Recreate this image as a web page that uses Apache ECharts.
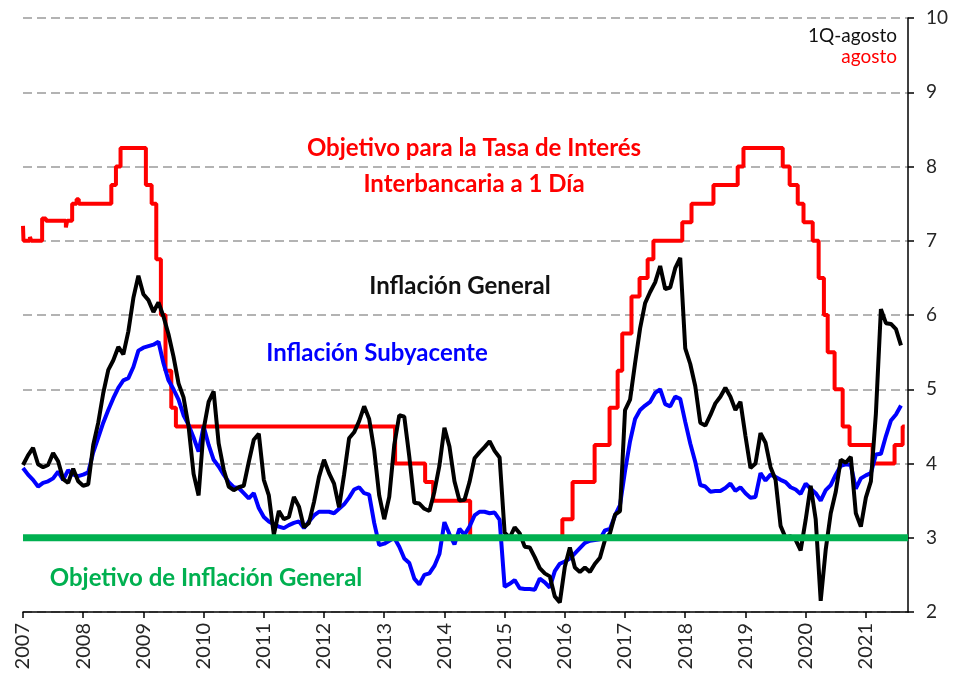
<!DOCTYPE html>
<html>
<head>
<meta charset="utf-8">
<script src="https://cdn.jsdelivr.net/npm/echarts@6/dist/echarts.min.js"></script>
<style>
  html, body { margin: 0; padding: 0; background: #fff; }
  #chart { width: 953px; height: 680px; }
</style>
</head>
<body>
<div id="chart"></div>
<script>
// monthly series start in January of this year
const startYear = 2007;
const yearLabels = [2007, 2008, 2009, 2010, 2011, 2012, 2013, 2014, 2015, 2016, 2017, 2018, 2019, 2020, 2021];

// Inflación General (annual %, monthly, Jan 2007 - 1Q Aug 2021)
const headline = [
  3.98, 4.11, 4.21, 3.99, 3.95, 3.98, 4.14, 4.03, 3.79, 3.74, 3.93, 3.76,
  3.70, 3.72, 4.25, 4.55, 4.95, 5.26, 5.39, 5.57, 5.47, 5.78, 6.23, 6.53,
  6.28, 6.20, 6.04, 6.17, 5.98, 5.74, 5.44, 5.08, 4.89, 4.50, 3.86, 3.57,
  4.46, 4.83, 4.97, 4.27, 3.92, 3.69, 3.64, 3.68, 3.70, 4.02, 4.32, 4.40,
  3.78, 3.57, 3.04, 3.36, 3.25, 3.28, 3.55, 3.42, 3.14, 3.20, 3.48, 3.82,
  4.05, 3.87, 3.73, 3.41, 3.85, 4.34, 4.42, 4.57, 4.77, 4.60, 4.18, 3.57,
  3.25, 3.55, 4.25, 4.65, 4.63, 4.09, 3.47, 3.46, 3.39, 3.36, 3.62, 3.97,
  4.48, 4.23, 3.76, 3.50, 3.51, 3.75, 4.07, 4.15, 4.22, 4.30, 4.17, 4.08,
  3.07, 3.00, 3.14, 3.06, 2.88, 2.87, 2.74, 2.59, 2.52, 2.48, 2.21, 2.13,
  2.61, 2.87, 2.60, 2.54, 2.60, 2.54, 2.65, 2.73, 2.97, 3.06, 3.31, 3.36,
  4.72, 4.86, 5.35, 5.82, 6.16, 6.31, 6.44, 6.66, 6.35, 6.37, 6.63, 6.77,
  5.55, 5.34, 5.04, 4.55, 4.51, 4.65, 4.81, 4.90, 5.02, 4.90, 4.72, 4.83,
  4.37, 3.94, 4.00, 4.41, 4.28, 3.95, 3.78, 3.16, 3.00, 3.02, 2.97, 2.83,
  3.24, 3.70, 3.25, 2.15, 2.84, 3.33, 3.62, 4.05, 4.01, 4.09, 3.33, 3.15,
  3.54, 3.76, 4.67, 6.08, 5.89, 5.88, 5.81, 5.59
];

// Inflación Subyacente
const core = [
  3.94, 3.85, 3.78, 3.69, 3.74, 3.76, 3.80, 3.89, 3.78, 3.91, 3.85, 3.83,
  3.85, 3.88, 4.15, 4.35, 4.55, 4.72, 4.88, 5.02, 5.12, 5.15, 5.30, 5.52,
  5.56, 5.58, 5.60, 5.64, 5.35, 5.12, 5.00, 4.86, 4.65, 4.52, 4.35, 4.16,
  4.50, 4.25, 4.05, 3.96, 3.85, 3.75, 3.68, 3.67, 3.60, 3.53, 3.60, 3.40,
  3.28, 3.22, 3.18, 3.15, 3.13, 3.17, 3.20, 3.22, 3.13, 3.22, 3.30, 3.35,
  3.35, 3.35, 3.33, 3.39, 3.45, 3.54, 3.65, 3.68, 3.60, 3.58, 3.20, 2.90,
  2.92, 2.96, 3.00, 2.88, 2.72, 2.66, 2.45, 2.37, 2.50, 2.52, 2.62, 2.78,
  3.21, 3.05, 2.91, 3.12, 3.04, 3.15, 3.30, 3.35, 3.35, 3.33, 3.34, 3.24,
  2.34, 2.38, 2.43, 2.32, 2.31, 2.31, 2.30, 2.45, 2.40, 2.33, 2.55, 2.65,
  2.68, 2.72, 2.79, 2.86, 2.93, 2.96, 2.97, 2.98, 3.10, 3.12, 3.30, 3.44,
  3.90, 4.30, 4.60, 4.72, 4.78, 4.83, 4.95, 5.00, 4.80, 4.77, 4.90, 4.87,
  4.56, 4.27, 4.02, 3.71, 3.69, 3.62, 3.63, 3.63, 3.67, 3.73, 3.63, 3.68,
  3.60, 3.54, 3.55, 3.87, 3.77, 3.85, 3.82, 3.78, 3.75, 3.68, 3.65, 3.59,
  3.73, 3.66, 3.60, 3.50, 3.64, 3.71, 3.85, 3.97, 3.99, 3.98, 3.66, 3.80,
  3.84, 3.87, 4.12, 4.13, 4.37, 4.58, 4.66, 4.78
];

// Objetivo para la Tasa de Interés Interbancaria a 1 Día (value holds from date)
const rateDates = [
  '2007-01-01', '2007-01-04', '2007-02-12', '2007-02-20', '2007-04-27', '2007-05-20',
  '2007-09-18', '2007-09-26', '2007-10-26', '2007-11-22', '2007-12-05',
  '2008-06-20', '2008-07-18', '2008-08-15',
  '2009-01-16', '2009-02-20', '2009-03-20', '2009-04-17', '2009-05-15', '2009-06-19', '2009-07-17',
  '2013-03-08', '2013-09-06', '2013-10-25', '2014-06-06',
  '2015-12-17', '2016-02-17', '2016-06-30', '2016-09-29', '2016-11-17', '2016-12-15',
  '2017-02-09', '2017-03-30', '2017-05-18', '2017-06-22', '2017-12-14',
  '2018-02-08', '2018-06-21', '2018-11-15', '2018-12-20',
  '2019-08-15', '2019-09-26', '2019-11-14', '2019-12-19',
  '2020-02-13', '2020-03-20', '2020-04-21', '2020-05-14', '2020-06-25', '2020-08-13', '2020-09-24',
  '2021-02-11', '2021-06-24', '2021-08-12', '2021-08-25'
];
const rateValues = [
  7.20, 7.00, 7.05, 7.00, 7.30, 7.27,
  7.18, 7.27, 7.50, 7.56, 7.50,
  7.75, 8.00, 8.25,
  7.75, 7.50, 6.75, 6.00, 5.25, 4.75, 4.50,
  4.00, 3.75, 3.50, 3.00,
  3.25, 3.75, 4.25, 4.75, 5.25, 5.75,
  6.25, 6.50, 6.75, 7.00, 7.25,
  7.50, 7.75, 8.00, 8.25,
  8.00, 7.75, 7.50, 7.25,
  7.00, 6.50, 6.00, 5.50, 5.00, 4.50, 4.25,
  4.00, 4.25, 4.50, 4.50
];

const inflationTarget = 3;
const xMin = 2007, xMax = 2021.7;

function toYear(d) {
  const [y, m, dd] = d.split('-').map(Number);
  const s = Date.UTC(y, 0, 1), e = Date.UTC(y + 1, 0, 1);
  return y + (Date.UTC(y, m - 1, dd) - s) / (e - s);
}
const monthly = arr => arr.map((v, i) => [startYear + i / 12, v]);

const chart = echarts.init(document.getElementById('chart'));
const font = 'Lato, "Open Sans", sans-serif';

chart.setOption({
  animation: false,
  grid: { left: 23, right: 45, top: 18, bottom: 68 },
  xAxis: {
    type: 'value', min: xMin, max: xMax, interval: 1,
    axisLine: { lineStyle: { color: '#000', width: 1.5 } },
    axisTick: { inside: false, length: 6, lineStyle: { color: '#000', width: 1.5 } },
    splitLine: { show: false },
    axisLabel: {
      rotate: 90, margin: 11, color: '#262626', fontSize: 20, fontFamily: font,
      showMaxLabel: false,
      formatter: v => (yearLabels.includes(Math.round(v)) && Math.abs(v - Math.round(v)) < 1e-6 ? String(Math.round(v)) : '')
    }
  },
  yAxis: {
    type: 'value', position: 'right', min: 2, max: 10, interval: 1,
    axisLine: { show: true, lineStyle: { color: '#000', width: 1.5 } },
    axisTick: { show: true, length: 6, lineStyle: { color: '#000', width: 1.5 } },
    axisLabel: { margin: 18, color: '#262626', fontSize: 19, fontFamily: font },
    splitLine: { show: true, lineStyle: { color: '#9a9a9a', width: 1.5, type: [9, 5] } }
  },
  series: [
    {
      name: 'Objetivo Tasa', type: 'line', step: 'end', showSymbol: false, z: 2,
      data: rateDates.map((d, i) => [toYear(d), rateValues[i]]),
      lineStyle: { color: '#ff0000', width: 4 }
    },
    {
      name: 'Inflación Subyacente', type: 'line', showSymbol: false, z: 3,
      data: monthly(core),
      lineStyle: { color: '#0000ff', width: 4 }
    },
    {
      name: 'Inflación General', type: 'line', showSymbol: false, z: 4,
      data: monthly(headline),
      lineStyle: { color: '#000000', width: 4 }
    },
    {
      name: 'Objetivo de Inflación General', type: 'line', showSymbol: false, z: 5,
      data: [[xMin, inflationTarget], [xMax, inflationTarget]],
      lineStyle: { color: '#00b050', width: 7 }
    }
  ],
  graphic: [
    { type: 'text', x: 474, y: 148, style: { text: 'Objetivo para la Tasa de Interés', fill: '#ff0000', font: 'bold 24px ' + font, align: 'center', verticalAlign: 'middle' } },
    { type: 'text', x: 474, y: 184, style: { text: 'Interbancaria a 1 Día', fill: '#ff0000', font: 'bold 24px ' + font, align: 'center', verticalAlign: 'middle' } },
    { type: 'text', x: 460, y: 286, style: { text: 'Inflación General', fill: '#111', font: 'bold 24px ' + font, align: 'center', verticalAlign: 'middle' } },
    { type: 'text', x: 377, y: 353, style: { text: 'Inflación Subyacente', fill: '#0000ff', font: 'bold 24px ' + font, align: 'center', verticalAlign: 'middle' } },
    { type: 'text', x: 206, y: 578, style: { text: 'Objetivo de Inflación General', fill: '#00b050', font: 'bold 24px ' + font, align: 'center', verticalAlign: 'middle' } },
    { type: 'text', x: 897, y: 36, style: { text: '1Q-agosto', fill: '#111', font: '19px ' + font, align: 'right', verticalAlign: 'middle' } },
    { type: 'text', x: 897, y: 57, style: { text: 'agosto', fill: '#ff0000', font: '19px ' + font, align: 'right', verticalAlign: 'middle' } }
  ]
});
</script>
</body>
</html>
